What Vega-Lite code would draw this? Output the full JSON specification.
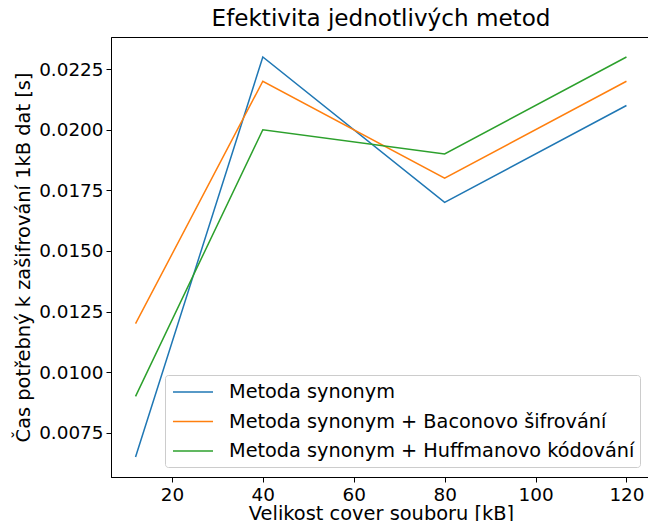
{
  "$schema": "https://vega.github.io/schema/vega-lite/v6.json",
  "autosize": {"type": "none"},
  "padding": {"left": 111, "top": 37, "right": 0, "bottom": 44},
  "width": 540,
  "height": 440,
  "background": "white",
  "title": {"text": "Efektivita jednotlivých metod", "font": "DejaVu Sans", "fontSize": 23.1, "fontWeight": "normal", "color": "black", "offset": 6, "anchor": "middle"},
  "config": {
    "view": {"stroke": "black", "strokeWidth": 1},
    "font": "DejaVu Sans",
    "axis": {"grid": false, "domainColor": "black", "tickColor": "black", "tickSize": 5, "labelFont": "DejaVu Sans", "labelFontSize": 18.4, "labelColor": "black", "titleFont": "DejaVu Sans", "titleFontSize": 19.4, "titleFontWeight": "normal", "titleColor": "black", "labelPadding": 3}
  },
  "data": {"values": [
    {"x": 12, "y": 0.0065, "s": "Metoda synonym"},
    {"x": 40, "y": 0.023, "s": "Metoda synonym"},
    {"x": 80, "y": 0.017, "s": "Metoda synonym"},
    {"x": 120, "y": 0.021, "s": "Metoda synonym"},
    {"x": 12, "y": 0.012, "s": "Metoda synonym + Baconovo šifrování"},
    {"x": 40, "y": 0.022, "s": "Metoda synonym + Baconovo šifrování"},
    {"x": 80, "y": 0.018, "s": "Metoda synonym + Baconovo šifrování"},
    {"x": 120, "y": 0.022, "s": "Metoda synonym + Baconovo šifrování"},
    {"x": 12, "y": 0.009, "s": "Metoda synonym + Huffmanovo kódování"},
    {"x": 40, "y": 0.020, "s": "Metoda synonym + Huffmanovo kódování"},
    {"x": 80, "y": 0.019, "s": "Metoda synonym + Huffmanovo kódování"},
    {"x": 120, "y": 0.023, "s": "Metoda synonym + Huffmanovo kódování"}
  ]},
  "mark": {"type": "line", "strokeWidth": 1.5},
  "encoding": {
    "x": {"field": "x", "type": "quantitative", "scale": {"domain": [6.6, 125.4], "nice": false, "zero": false},
      "axis": {"values": [20, 40, 60, 80, 100, 120], "title": "Velikost cover souboru [kB]", "titlePadding": 1}},
    "y": {"field": "y", "type": "quantitative", "scale": {"domain": [0.005675, 0.023825], "nice": false, "zero": false},
      "axis": {"values": [0.0075, 0.01, 0.0125, 0.015, 0.0175, 0.02, 0.0225], "format": ".4f", "title": "Čas potřebný k zašifrování 1kB dat [s]", "titlePadding": 5}},
    "color": {"field": "s", "type": "nominal",
      "scale": {"domain": ["Metoda synonym", "Metoda synonym + Baconovo šifrování", "Metoda synonym + Huffmanovo kódování"], "range": ["#1f77b4", "#ff7f0e", "#2ca02c"]},
      "legend": {"title": null, "orient": "none", "legendX": 54, "legendY": 338, "padding": 5,
        "symbolType": "M-0.82,0H2.82", "symbolSize": 484, "symbolStrokeWidth": 1.5, "symbolFillColor": "transparent",
        "labelOffset": 35, "rowPadding": 6.5, "labelFont": "DejaVu Sans", "labelFontSize": 19.3, "labelColor": "black", "labelLimit": 0,
        "strokeColor": "#cccccc", "fillColor": "rgba(255,255,255,0.8)", "cornerRadius": 3}}
  }
}
